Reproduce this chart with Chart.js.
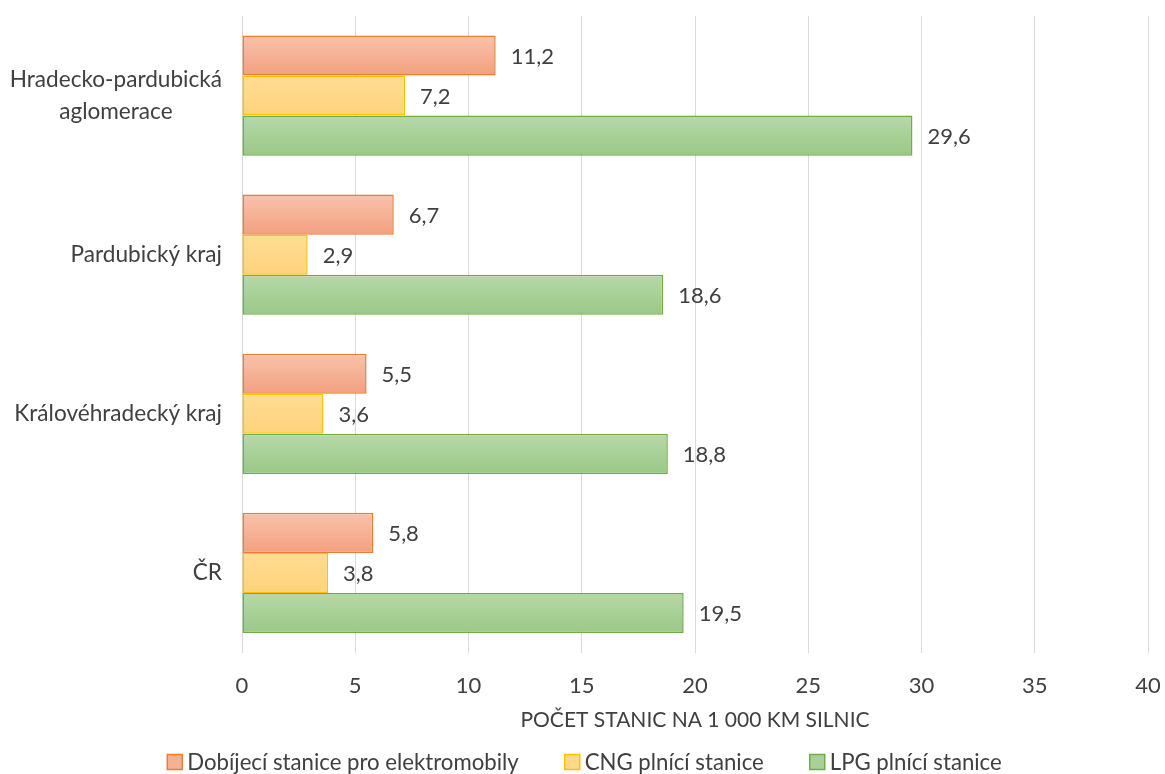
<!DOCTYPE html>
<html>
<head>
<meta charset="utf-8">
<script src="https://cdn.jsdelivr.net/npm/chart.js@4.4.1/dist/chart.umd.min.js"></script>
<style>
  html, body { margin: 0; padding: 0; background: #ffffff; }
  #wrap { width: 1165px; height: 774px; }
</style>
</head>
<body>
<div id="wrap"><canvas id="c" width="1165" height="774"></canvas></div>
<script>
const categories = [["Hradecko-pardubická", "aglomerace"], "Pardubický kraj", "Královéhradecký kraj", "ČR"];
const seriesNames = ["Dobíjecí stanice pro elektromobily", "CNG plnící stanice", "LPG plnící stanice"];
const elektroValues = [11.2, 6.7, 5.5, 5.8];
const cngValues = [7.2, 2.9, 3.6, 3.8];
const lpgValues = [29.6, 18.6, 18.8, 19.5];
const xTicks = [0, 5, 10, 15, 20, 25, 30, 35, 40];
const axisTitle = "POČET STANIC NA 1 000 KM SILNIC";

const FONT = "Lato";
const FS = 22;
const TXT = "#404040";
const CAT_PCT = 0.755;

const styles = [
  { top: "#f8c3ab", bottom: "#f3a07f", border: "#ed7d31", legend: "#f6b193" },
  { top: "#ffdd94", bottom: "#fed27c", border: "#ffc000", legend: "#ffd88a" },
  { top: "#b7d8a9", bottom: "#9bc886", border: "#70ad47", legend: "#a9d096" }
];

function gradientFill(ctx) {
  const chart = ctx.chart;
  const st = styles[ctx.datasetIndex];
  const ys = chart.scales.y;
  if (!ys || ys.top === undefined || !chart.chartArea || ctx.dataIndex === undefined) return st.legend;
  const n = categories.length;
  const band = (ys.bottom - ys.top) / n;
  const center = ys.getPixelForValue(ctx.dataIndex);
  const barH = band * CAT_PCT / 3;
  const top = center - band * CAT_PCT / 2 + ctx.datasetIndex * barH;
  if (!isFinite(top)) return st.legend;
  const g = chart.ctx.createLinearGradient(0, top, 0, top + barH);
  g.addColorStop(0, st.top);
  g.addColorStop(1, st.bottom);
  return g;
}

const valueLabels = {
  id: "valueLabels",
  afterDatasetsDraw(chart) {
    const ctx = chart.ctx;
    ctx.save();
    ctx.font = FS + "px " + FONT;
    ctx.fillStyle = TXT;
    ctx.textAlign = "left";
    ctx.textBaseline = "middle";
    chart.data.datasets.forEach((ds, di) => {
      const meta = chart.getDatasetMeta(di);
      meta.data.forEach((el, i) => {
        const txt = ds.data[i].toFixed(1).replace(".", ",");
        ctx.fillText(txt, el.x + 15, el.y + 1);
      });
    });
    ctx.restore();
  }
};

const catLabels = {
  id: "catLabels",
  afterDraw(chart) {
    const ctx = chart.ctx;
    const ys = chart.scales.y;
    ctx.save();
    ctx.font = "22.6px " + FONT;
    ctx.fillStyle = TXT;
    ctx.textBaseline = "middle";
    ctx.textAlign = "center";
    const right = chart.chartArea.left - 20;
    categories.forEach((lab, i) => {
      const lines = Array.isArray(lab) ? lab : [lab];
      const w = Math.max(...lines.map(l => ctx.measureText(l).width));
      const cx = right - w / 2;
      const lh = 32;
      const cy = ys.getPixelForValue(i);
      lines.forEach((l, k) => {
        ctx.fillText(l, cx, cy + (k - (lines.length - 1) / 2) * lh);
      });
    });
    ctx.restore();
  }
};

const customLegend = {
  id: "customLegend",
  afterDraw(chart) {
    const ctx = chart.ctx;
    ctx.save();
    ctx.font = "22.2px " + FONT;
    ctx.textBaseline = "middle";
    ctx.textAlign = "left";
    const box = 15, gapText = 5, gapItem = 46;
    const widths = seriesNames.map(n => box + gapText + ctx.measureText(n).width);
    const total = widths.reduce((a, b) => a + b, 0) + gapItem * (widths.length - 1);
    let x = 584.5 - total / 2;
    const y = 762;
    seriesNames.forEach((n, i) => {
      ctx.fillStyle = styles[i].legend;
      ctx.fillRect(x, y - box / 2, box, box);
      ctx.strokeStyle = styles[i].border;
      ctx.lineWidth = 1.5;
      ctx.strokeRect(x, y - box / 2, box, box);
      ctx.fillStyle = TXT;
      ctx.fillText(n, x + box + gapText, y + 1);
      x += widths[i] + gapItem;
    });
    ctx.restore();
  }
};

const datasets = [elektroValues, cngValues, lpgValues].map((vals, i) => ({
  label: seriesNames[i],
  data: vals,
  backgroundColor: gradientFill,
  borderColor: styles[i].border,
  borderWidth: 1.5,
  borderSkipped: false,
  categoryPercentage: CAT_PCT,
  barPercentage: 1.0
}));

new Chart(document.getElementById("c"), {
  type: "bar",
  data: { labels: categories, datasets: datasets },
  options: {
    indexAxis: "y",
    responsive: false,
    animation: false,
    devicePixelRatio: 1,
    layout: { padding: { top: 16, right: 17, left: 0, bottom: 37 } },
    plugins: {
      legend: { display: false },
      tooltip: { enabled: false }
    },
    scales: {
      x: {
        min: 0, max: 40,
        afterBuildTicks(scale) { scale.ticks = xTicks.map(v => ({ value: v })); },
        afterFit(scale) { scale.height = 84.5; scale.paddingRight = 0; scale.paddingLeft = 0; },
        grid: { color: "#d9d9d9", lineWidth: 1, drawTicks: false },
        border: { display: false },
        ticks: { padding: 20, color: TXT, font: { family: FONT, size: FS } },
        title: {
          display: true, text: axisTitle, color: TXT,
          font: { family: FONT, size: 21 },
          padding: { top: 8, bottom: 4 }
        }
      },
      y: {
        grid: { display: false, drawTicks: false },
        border: { display: true, color: "#d9d9d9", width: 1 },
        ticks: { display: false },
        afterFit(scale) { scale.width = 242; }
      }
    }
  },
  plugins: [valueLabels, catLabels, customLegend]
});
</script>
</body>
</html>
